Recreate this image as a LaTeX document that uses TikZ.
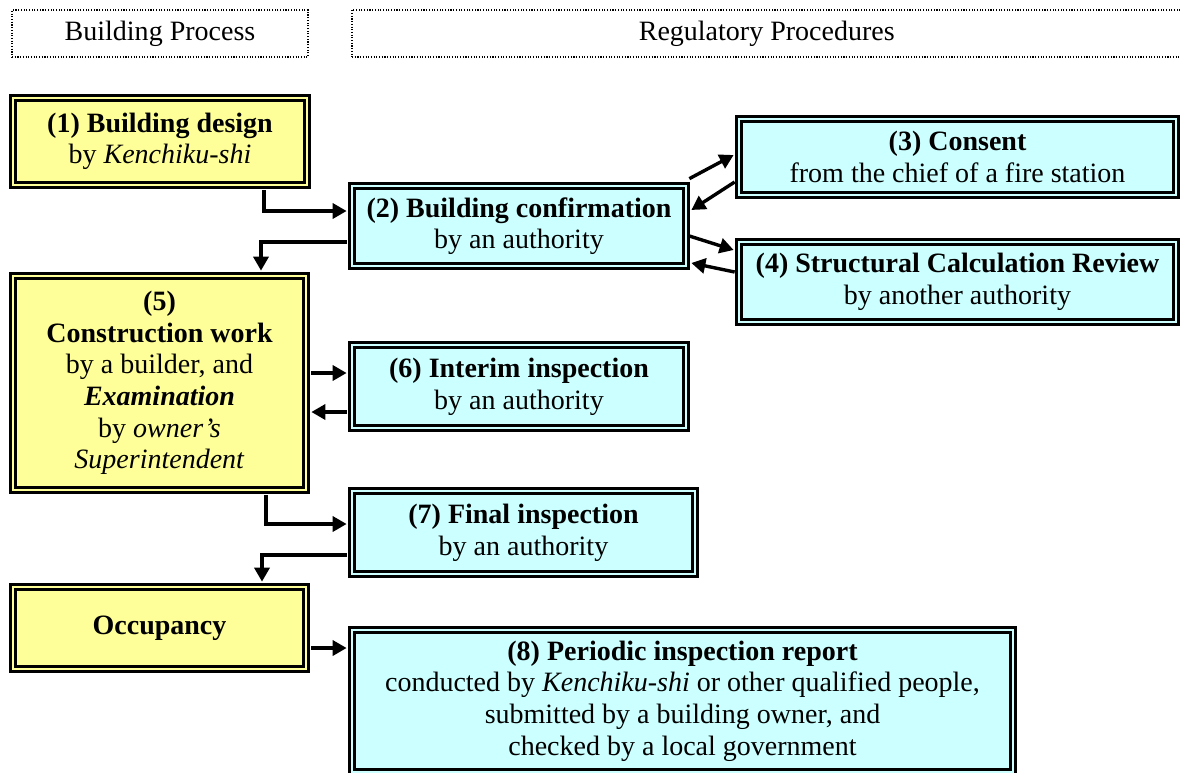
\documentclass[tikz,border=0pt]{standalone}
\usepackage{fontspec}
\setmainfont{Liberation Serif}
\usetikzlibrary{arrows.meta}
\definecolor{boxyellow}{HTML}{FFFF99}
\definecolor{boxcyan}{HTML}{CCFFFF}
\begin{document}
\begin{tikzpicture}[x=1pt,y=-1pt,
  font=\fontsize{28}{31.6}\selectfont,
  box/.style={draw=black, line width=2.7pt, double distance=2.2pt, inner sep=0pt, align=center},
  ybox/.style={box, fill=boxyellow, double=boxyellow},
  cbox/.style={box, fill=boxcyan, double=boxcyan},
  hdr/.style={draw=black, line width=1.1pt, dash pattern=on 1.1pt off 1.6pt, inner sep=0pt, minimum height=47pt},
  arr/.style={line width=3.4pt, -{Triangle[length=14pt,width=15pt]}},
  oarr/.style={arr, shorten <=3.8pt, shorten >=3.8pt}]
\useasboundingbox (0,0) rectangle (1180,772);
\fill[white] (0,0) rectangle (1180,772);

% headers
\node[hdr, minimum width=296pt] (hp) at (160,33.5) {Building Process};
\node[hdr, minimum width=829.5pt] (hr) at (766.75,33.5) {Regulatory Procedures};

% building process boxes
\node[ybox, minimum width=294.4pt, minimum height=87.4pt] (b1) at (160,141.5)
  {\textbf{(1) Building design}\\by \textit{Kenchiku-shi}};
\node[ybox, minimum width=293.4pt, minimum height=214.4pt] (b5) at (159.5,383)
  {\textbf{(5)}\\\textbf{Construction work}\\by a builder, and\\\textbf{\textit{Examination}}\\by \textit{owner’s}\\\textit{Superintendent}};
\node[ybox, minimum width=293.4pt, minimum height=82.4pt] (occ) at (159.5,628)
  {\raisebox{3.6pt}{\textbf{Occupancy}}};

% regulatory boxes
\node[cbox, minimum width=334.4pt, minimum height=80.4pt] (b2) at (519,226)
  {\textbf{(2) Building confirmation}\\by an authority};
\node[cbox, minimum width=437.4pt, minimum height=76.4pt] (b3) at (957.5,157)
  {\textbf{(3) Consent}\\from the chief of a fire station};
\node[cbox, minimum width=437.4pt, minimum height=80.4pt] (b4) at (957.5,282)
  {\textbf{(4) Structural Calculation Review}\\by another authority};
\node[cbox, minimum width=334.4pt, minimum height=83.4pt] (b6) at (519,386.5)
  {\textbf{(6) Interim inspection}\\by an authority};
\node[cbox, minimum width=343.4pt, minimum height=83.4pt] (b7) at (523.5,532.5)
  {\textbf{(7) Final inspection}\\by an authority};
\node[cbox, minimum width=661.4pt, minimum height=142.4pt] (b8) at (682.5,701)
  {\textbf{(8) Periodic inspection report}\\conducted by \textit{Kenchiku-shi} or other qualified people,\\submitted by a building owner, and\\checked by a local government};

% connectors
\draw[oarr] ([xshift=104pt]b1.south) |- ([yshift=15pt]b2.west);
\draw[oarr] ([yshift=-16pt]b2.west) -| ([xshift=101.5pt]b5.north);
\draw[oarr] ([yshift=10pt]b5.east) -- ([yshift=13.5pt]b6.west);
\draw[oarr] ([yshift=-25.5pt]b6.west) -- ([yshift=-29pt]b5.east);
\draw[oarr] ([xshift=106.5pt]b5.south) |- ([yshift=8.5pt]b7.west);
\draw[oarr] ([yshift=-22.5pt]b7.west) -| ([xshift=102.5pt]occ.north);
\draw[oarr] ([yshift=-20pt]occ.east) -- ([yshift=53pt]b8.west);

\draw[arr] ([xshift=1.8pt,yshift=5.8pt]b2.north east) -- ([xshift=-3.8pt,yshift=2pt]b3.west);
\draw[arr] ([xshift=-2.8pt,yshift=-25pt]b3.west) -- ([xshift=3.8pt,yshift=16pt]b2.east);
\draw[arr] ([xshift=1.8pt,yshift=-10pt]b2.east) -- ([xshift=-3.8pt,yshift=32pt]b4.west);
\draw[arr] ([xshift=-2.8pt,yshift=10pt]b4.west) -- ([xshift=3.8pt,yshift=-37pt]b2.east);
\end{tikzpicture}
\end{document}
